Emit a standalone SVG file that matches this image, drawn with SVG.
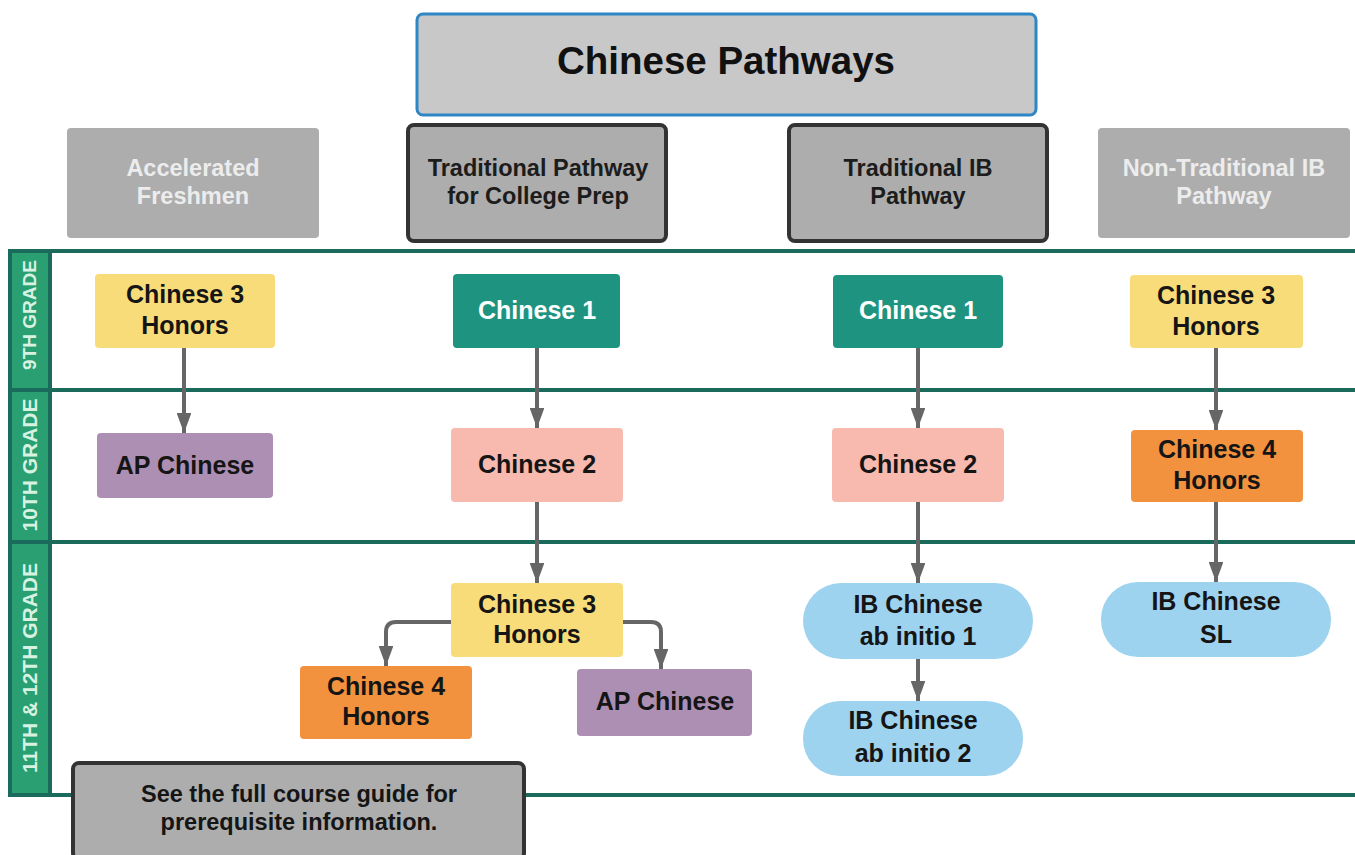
<svg xmlns="http://www.w3.org/2000/svg" width="1355" height="855" viewBox="0 0 1355 855" font-family="'Liberation Sans', Arial, sans-serif">
<style>
text{font-family:'Liberation Sans',Arial,Helvetica,sans-serif;font-weight:700;text-anchor:middle}
.n{font-size:25px;fill:#151515}
.w{fill:#ffffff}
.h{font-size:23.5px}
.hd{fill:#1c1c1c}
.hl{fill:#ececec}
.g{font-size:21px;fill:#d8f2e2}
.nt{font-size:23.5px;fill:#151515}
.grid{stroke:#1b6b5c;stroke-width:4;fill:none}
.c{stroke:#666;stroke-width:4;fill:none;marker-end:url(#ah)}
.yel{fill:#f9dc7a}.teal{fill:#1e9480}.pur{fill:#ad8fb3}.pink{fill:#f8b9ae}.ora{fill:#f3923e}.blu{fill:#9ed3ef}
</style>
<defs>
<marker id="ah" viewBox="0 0 10 10" refX="10" refY="5" markerWidth="5" markerHeight="3.7" preserveAspectRatio="none" orient="auto" markerUnits="strokeWidth">
<path d="M0,0 L10,5 L0,10 z" fill="#666"/>
</marker>
</defs>
<rect width="1355" height="855" fill="#ffffff"/>
<g id="grid">
<rect x="10" y="251" width="40" height="544" fill="#2aa072"/>
<path class="grid" d="M1355,251 H10 V795 H1355 M50,251 V795 M10,390 H1355 M10,542 H1355"/>
<text class="g" style="font-size:19px" transform="translate(36,315) rotate(-90)">9TH GRADE</text>
<text class="g" transform="translate(37,465) rotate(-90)">10TH GRADE</text>
<text class="g" transform="translate(37,668) rotate(-90)">11TH &amp; 12TH GRADE</text>
</g>
<g id="title">
<rect x="417" y="14" width="619" height="101" rx="6" fill="#c8c8c8" stroke="#2f86c5" stroke-width="3"/>
<text x="726" y="74" style="font-size:38.5px" fill="#111">Chinese Pathways</text>
</g>
<g id="hdr-accel">
<rect x="67" y="128" width="252" height="110" rx="4" fill="#adadad"/>
<text class="h hl" x="193" y="176">Accelerated</text>
<text class="h hl" x="193" y="204">Freshmen</text>
</g>
<g id="hdr-trad">
<rect x="408" y="125" width="258" height="116" rx="6" fill="#adadad" stroke="#333" stroke-width="4"/>
<text class="h hd" x="538" y="176">Traditional Pathway</text>
<text class="h hd" x="538" y="204">for College Prep</text>
</g>
<g id="hdr-ib">
<rect x="789" y="125" width="258" height="116" rx="6" fill="#adadad" stroke="#333" stroke-width="4"/>
<text class="h hd" x="918" y="176">Traditional IB</text>
<text class="h hd" x="918" y="204">Pathway</text>
</g>
<g id="hdr-nontrad">
<rect x="1098" y="128" width="252" height="110" rx="4" fill="#adadad"/>
<text class="h hl" x="1224" y="176">Non-Traditional IB</text>
<text class="h hl" x="1224" y="204">Pathway</text>
</g>
<g id="connectors">
<path class="c" d="M184,348 V433"/>
<path class="c" d="M537,348 V428"/>
<path class="c" d="M537,502 V583"/>
<path class="c" d="M918,348 V428"/>
<path class="c" d="M918,502 V583"/>
<path class="c" d="M918,659 V701"/>
<path class="c" d="M1216,348 V430"/>
<path class="c" d="M1216,502 V582"/>
<path class="c" d="M451,622 H396 Q386,622 386,632 V666"/>
<path class="c" d="M623,622 H651 Q661,622 661,632 V669"/>
</g>
<g id="n-c3h-a">
<rect class="yel" x="95" y="274" width="180" height="74" rx="4"/>
<text class="n" x="185" y="303">Chinese 3</text>
<text class="n" x="185" y="334">Honors</text>
</g>
<g id="n-c1-t">
<rect class="teal" x="453" y="274" width="167" height="74" rx="4"/>
<text class="n w" x="537" y="319">Chinese 1</text>
</g>
<g id="n-c1-ib">
<rect class="teal" x="833" y="275" width="170" height="73" rx="4"/>
<text class="n w" x="918" y="319">Chinese 1</text>
</g>
<g id="n-c3h-n">
<rect class="yel" x="1130" y="275" width="173" height="73" rx="4"/>
<text class="n" x="1216" y="304">Chinese 3</text>
<text class="n" x="1216" y="335">Honors</text>
</g>
<g id="n-ap-a">
<rect class="pur" x="97" y="433" width="176" height="65" rx="4"/>
<text class="n" x="185" y="474">AP Chinese</text>
</g>
<g id="n-c2-t">
<rect class="pink" x="451" y="428" width="172" height="74" rx="4"/>
<text class="n" x="537" y="473">Chinese 2</text>
</g>
<g id="n-c2-ib">
<rect class="pink" x="832" y="428" width="172" height="74" rx="4"/>
<text class="n" x="918" y="473">Chinese 2</text>
</g>
<g id="n-c4h-n">
<rect class="ora" x="1131" y="430" width="172" height="72" rx="4"/>
<text class="n" x="1217" y="458">Chinese 4</text>
<text class="n" x="1217" y="489">Honors</text>
</g>
<g id="n-c3h-t">
<rect class="yel" x="451" y="583" width="172" height="74" rx="4"/>
<text class="n" x="537" y="613">Chinese 3</text>
<text class="n" x="537" y="643">Honors</text>
</g>
<g id="n-c4h-t">
<rect class="ora" x="300" y="666" width="172" height="73" rx="4"/>
<text class="n" x="386" y="695">Chinese 4</text>
<text class="n" x="386" y="725">Honors</text>
</g>
<g id="n-ap-t">
<rect class="pur" x="577" y="669" width="175" height="67" rx="4"/>
<text class="n" x="665" y="710">AP Chinese</text>
</g>
<g id="n-ib1">
<rect class="blu" x="803" y="583" width="230" height="76" rx="38"/>
<text class="n" x="918" y="613">IB Chinese</text>
<text class="n" x="918" y="645">ab initio 1</text>
</g>
<g id="n-ib2">
<rect class="blu" x="803" y="701" width="220" height="75" rx="37"/>
<text class="n" x="913" y="729">IB Chinese</text>
<text class="n" x="913" y="762">ab initio 2</text>
</g>
<g id="n-ibsl">
<rect class="blu" x="1101" y="582" width="230" height="75" rx="37"/>
<text class="n" x="1216" y="610">IB Chinese</text>
<text class="n" x="1216" y="643">SL</text>
</g>
<g id="note">
<rect x="73" y="763" width="451" height="96" rx="6" fill="#adadad" stroke="#333" stroke-width="4"/>
<text class="nt" x="299" y="802">See the full course guide for</text>
<text class="nt" x="299" y="830">prerequisite information.</text>
</g>
</svg>
